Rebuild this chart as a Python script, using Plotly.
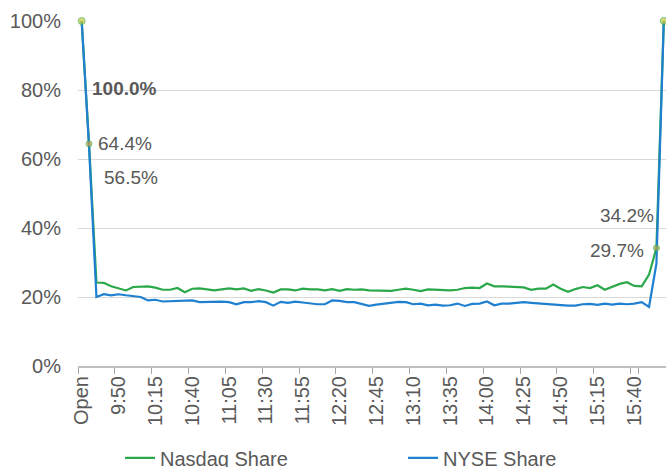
import plotly.graph_objects as go

# ---- data ----
times = []
for h in range(9, 16):
    for m in range(0, 60, 5):
        if (h == 9 and m < 30):
            continue
        times.append(f"{h}:{m:02d}")
categories = ["Open"] + times + ["Close"]

nasdaq_share = [
    100.0, 64.4, 24.2, 24.1, 23.1, 22.6, 21.9, 22.9, 22.9, 23.1,
    22.7, 22.1, 22.1, 22.6, 21.4, 22.4, 22.5, 22.1, 21.9, 22.2,
    22.5, 22.2, 22.5, 21.8, 22.3, 21.9, 21.3, 22.2, 22.2, 21.9,
    22.4, 22.2, 22.2, 21.9, 22.3, 21.8, 22.3, 22.1, 22.2, 21.9,
    21.8, 21.9, 21.8, 22.1, 22.4, 22.1, 21.7, 22.2, 22.1, 22.0,
    21.9, 22.1, 22.6, 22.7, 22.6, 23.9, 23.1, 23.1, 23.0, 22.9,
    22.8, 22.1, 22.4, 22.4, 23.6, 22.4, 21.5, 22.3, 22.9, 22.6,
    23.4, 22.1, 22.9, 23.8, 24.3, 23.2, 23.1, 26.5, 34.2, 100.0,
]
nyse_share = [
    100.0, 63.5, 20.0, 20.8, 20.5, 20.8, 20.5, 20.2, 20.0, 19.0,
    19.2, 18.7, 18.75, 18.85, 18.85, 19.0, 18.5, 18.6, 18.6, 18.65,
    18.5, 17.9, 18.5, 18.5, 18.8, 18.5, 17.5, 18.6, 18.3, 18.65,
    18.4, 18.1, 17.9, 17.9, 19.0, 18.9, 18.5, 18.5, 17.9, 17.45,
    17.8, 18.1, 18.5, 18.6, 18.5, 17.9, 18.1, 17.6, 17.8, 17.5,
    17.6, 18.1, 17.4, 18.0, 18.1, 18.7, 17.6, 18.1, 18.1, 18.3,
    18.5, 18.3, 18.1, 18.1, 17.9, 17.7, 17.5, 17.5, 17.9, 18.0,
    17.7, 18.1, 17.8, 18.1, 17.9, 18.1, 18.5, 17.1, 29.7, 100.0,
]
tick_labels = categories[0:76:5]
y_ticks = [0, 20, 40, 60, 80, 100]
y_tick_text = ["0%", "20%", "40%", "60%", "80%", "100%"]

marker_idx = [0, 1, 78, 79]

GREEN = "#2aa84a"
BLUE = "#1f80d0"
TXT = "#595959"
FONT = "Liberation Sans, Arial, sans-serif"

fig = go.Figure()
fig.add_trace(go.Scatter(
    x=categories, y=nasdaq_share, name="Nasdaq Share", mode="lines",
    line=dict(color=GREEN, width=2.2), cliponaxis=False,
))
fig.add_trace(go.Scatter(
    x=categories, y=nyse_share, name="NYSE Share", mode="lines",
    line=dict(color=BLUE, width=2.2), cliponaxis=False,
))
fig.add_trace(go.Scatter(
    x=[categories[i] for i in marker_idx],
    y=[nasdaq_share[i] for i in marker_idx],
    mode="markers", showlegend=False, cliponaxis=False,
    marker=dict(size=[7, 6, 6, 7],
                color=["#c8c83a", "#d39a45", "#b7a84a", "#c8c83a"],
                line=dict(color="#3cb04a", width=1)),
))

ann_font = dict(family=FONT, size=19, color=TXT)
annotations = [
    dict(x=categories[0], y=nasdaq_share[0], text="<b>100.0%</b>",
         xanchor="left", yanchor="middle", xshift=8, yshift=-67),
    dict(x=categories[1], y=nasdaq_share[1], text="64.4%",
         xanchor="left", yanchor="middle", xshift=7, yshift=0),
    dict(x=categories[1], y=56.5, text="56.5%",
         xanchor="left", yanchor="middle", xshift=13, yshift=-6),
    dict(x=categories[78], y=nasdaq_share[78], text="34.2%",
         xanchor="right", yanchor="middle", xshift=0, yshift=33),
    dict(x=categories[78], y=nyse_share[78], text="29.7%",
         xanchor="right", yanchor="middle", xshift=-10, yshift=13),
]
for a in annotations:
    a.update(xref="x", yref="y", showarrow=False, font=ann_font)

fig.update_layout(
    width=666, height=467,
    margin=dict(l=78, r=0, t=21, b=101, autoexpand=False),
    paper_bgcolor="white", plot_bgcolor="white",
    font=dict(family=FONT, size=20, color=TXT),
    annotations=annotations,
    legend=dict(orientation="h", x=0.0715, xanchor="left", y=-0.21, yanchor="top",
                font=dict(family=FONT, size=20, color=TXT),
                entrywidth=238, itemwidth=30, bgcolor="rgba(0,0,0,0)"),
    showlegend=True,
)
fig.update_xaxes(
    type="category", categoryorder="array", categoryarray=categories,
    range=[-0.5, 79.3], tickmode="array", tickvals=tick_labels, ticktext=tick_labels,
    tickangle=-90, tickson="boundaries", ticks="outside", ticklen=6,
    tickcolor="#a6a6a6", tickwidth=1,
    showline=True, linecolor="#bfbfbf", linewidth=2, showgrid=False,
    zeroline=False, tickfont=dict(family=FONT, size=20, color=TXT),
)
fig.update_yaxes(
    range=[0, 100], tickmode="array", tickvals=y_ticks, ticktext=y_tick_text,
    showgrid=True, gridcolor="#d9d9d9", gridwidth=1, zeroline=False,
    showline=False, ticks="", ticklabelstandoff=16,
    tickfont=dict(family=FONT, size=20, color=TXT),
)

fig.write_html(
    "out.html",
    config={"displayModeBar": False},
    post_script="document.body.style.margin='0';document.body.style.overflow='hidden';",
)
